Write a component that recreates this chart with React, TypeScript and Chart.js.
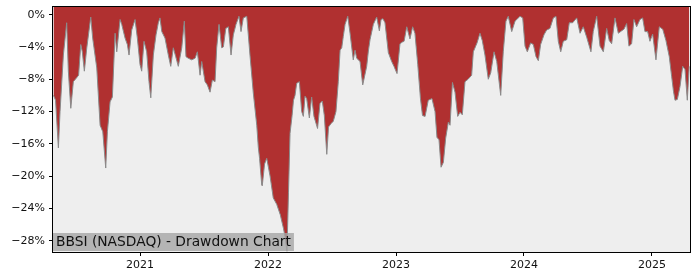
import React, { useEffect, useRef } from "react";
import { Chart, registerables } from "chart.js";

Chart.register(...registerables);

const chartTitle = "BBSI (NASDAQ) - Drawdown Chart";

// decimal years
const dates: number[] = [
  2020.324, 2020.340, 2020.362, 2020.375, 2020.401, 2020.427, 2020.440, 2020.459, 2020.479, 2020.505,
  2020.520, 2020.537, 2020.549, 2020.565, 2020.584, 2020.615, 2020.630, 2020.662, 2020.688, 2020.709,
  2020.732, 2020.745, 2020.766, 2020.784, 2020.805, 2020.818, 2020.844, 2020.857, 2020.883, 2020.901,
  2020.914, 2020.935, 2020.961, 2020.979, 2021.000, 2021.013, 2021.031, 2021.052, 2021.070, 2021.084,
  2021.104, 2021.125, 2021.143, 2021.156, 2021.170, 2021.195, 2021.221, 2021.240, 2021.260, 2021.279,
  2021.299, 2021.326, 2021.346, 2021.359, 2021.377, 2021.404, 2021.430, 2021.448, 2021.469, 2021.482,
  2021.508, 2021.526, 2021.547, 2021.565, 2021.586, 2021.599, 2021.617, 2021.638, 2021.651, 2021.670,
  2021.690, 2021.711, 2021.729, 2021.750, 2021.773, 2021.789, 2021.807, 2021.834, 2021.859, 2021.885,
  2021.912, 2021.924, 2021.934, 2021.951, 2021.955, 2021.973, 2021.990, 2022.016, 2022.041, 2022.068,
  2022.096, 2022.121, 2022.133, 2022.148, 2022.160, 2022.172, 2022.188, 2022.199, 2022.211, 2022.224,
  2022.245, 2022.263, 2022.276, 2022.289, 2022.302, 2022.323, 2022.341, 2022.359, 2022.387, 2022.406,
  2022.424, 2022.440, 2022.459, 2022.473, 2022.492, 2022.510, 2022.531, 2022.549, 2022.563, 2022.576,
  2022.588, 2022.602, 2022.623, 2022.641, 2022.666, 2022.680, 2022.693, 2022.719, 2022.740, 2022.771,
  2022.784, 2022.797, 2022.823, 2022.849, 2022.870, 2022.883, 2022.898, 2022.914, 2022.940, 2022.966,
  2022.984, 2023.008, 2023.031, 2023.049, 2023.063, 2023.084, 2023.109, 2023.130, 2023.148, 2023.170,
  2023.191, 2023.207, 2023.227, 2023.252, 2023.281, 2023.305, 2023.320, 2023.336, 2023.352, 2023.370,
  2023.388, 2023.409, 2023.422, 2023.441, 2023.461, 2023.482, 2023.500, 2023.518, 2023.539, 2023.563,
  2023.591, 2023.604, 2023.633, 2023.656, 2023.674, 2023.695, 2023.721, 2023.740, 2023.766, 2023.787,
  2023.818, 2023.838, 2023.859, 2023.877, 2023.904, 2023.930, 2023.969, 2023.990, 2024.008, 2024.026,
  2024.052, 2024.073, 2024.094, 2024.112, 2024.130, 2024.156, 2024.177, 2024.203, 2024.229, 2024.250,
  2024.268, 2024.287, 2024.307, 2024.334, 2024.354, 2024.380, 2024.412, 2024.438, 2024.463, 2024.490,
  2024.523, 2024.541, 2024.568, 2024.594, 2024.620, 2024.646, 2024.666, 2024.685, 2024.711, 2024.737,
  2024.763, 2024.781, 2024.802, 2024.820, 2024.841, 2024.859, 2024.880, 2024.906, 2024.927, 2024.945,
  2024.966, 2024.984, 2025.005, 2025.031, 2025.057, 2025.084, 2025.109, 2025.135, 2025.154, 2025.168,
  2025.180, 2025.198, 2025.219, 2025.240, 2025.258, 2025.276, 2025.291,
];

// drawdown in percent
const drawdown: number[] = [
  -10.0, -10.6, -16.5, -12.0, -5.0, -1.0, -7.0, -11.6, -8.3, -7.8,
  -7.5, -3.7, -4.6, -7.0, -4.1, -0.3, -2.9, -6.6, -13.7, -14.5,
  -19.0, -14.5, -10.8, -10.2, -2.3, -4.6, -0.6, -1.2, -2.9, -3.7,
  -5.0, -1.9, -0.6, -2.9, -6.2, -7.0, -3.3, -4.6, -8.3, -10.3,
  -5.0, -2.5, -1.0, -0.4, -2.1, -2.9, -5.0, -6.4, -4.1, -5.2,
  -6.4, -4.1, -0.8, -5.2, -5.4, -5.6, -5.4, -4.6, -7.5, -5.8,
  -8.3, -8.7, -9.6, -8.1, -8.3, -4.1, -1.2, -4.1, -4.0, -1.7,
  -1.5, -5.0, -2.5, -1.2, -0.2, -2.1, -0.4, -0.2, -5.0, -9.7,
  -13.7, -16.4, -17.8, -21.1, -21.2, -18.5, -17.8, -20.0, -22.7, -23.5,
  -24.8, -26.5, -27.5, -29.3, -22.0, -14.7, -12.5, -10.6, -10.0, -8.5,
  -8.3, -12.0, -12.6, -10.1, -10.4, -12.8, -10.2, -12.6, -14.1, -11.0,
  -10.7, -12.5, -17.3, -13.9, -13.5, -13.2, -12.0, -8.3, -4.4, -4.1,
  -2.7, -1.2, -0.2, -2.3, -5.6, -4.4, -5.4, -5.8, -8.7, -6.4,
  -4.5, -3.1, -1.2, -0.3, -2.0, -0.6, -0.5, -1.0, -4.7, -5.8,
  -6.4, -7.3, -3.6, -3.4, -3.3, -1.5, -3.0, -1.5, -2.3, -6.2,
  -10.4, -12.5, -12.6, -10.6, -10.4, -12.0, -15.2, -15.5, -18.9, -18.3,
  -15.3, -13.3, -13.7, -8.4, -9.6, -12.6, -12.1, -12.4, -8.3, -8.0,
  -7.5, -4.6, -3.5, -2.3, -3.2, -5.0, -8.0, -7.2, -4.6, -5.8,
  -10.0, -4.6, -0.8, -0.2, -2.1, -0.8, -0.2, -0.4, -3.9, -4.6,
  -3.5, -3.7, -5.2, -5.7, -3.7, -2.5, -1.9, -1.7, -0.4, -0.2,
  -3.3, -4.6, -3.3, -3.1, -1.0, -1.0, -0.4, -2.3, -1.5, -2.8,
  -4.6, -2.1, -0.2, -3.9, -4.6, -1.7, -3.2, -3.6, -0.4, -2.3,
  -2.0, -1.8, -1.1, -3.9, -3.6, -0.6, -1.5, -0.6, -0.4, -2.1,
  -2.1, -3.3, -2.4, -5.6, -1.5, -1.8, -3.2, -5.2, -7.7, -9.5,
  -10.6, -10.5, -8.9, -6.4, -6.8, -10.6, -6.4,
];

const xTicks: number[] = [2021, 2022, 2023, 2024, 2025];
const yTicks: number[] = [0, -4, -8, -12, -16, -20, -24, -28];

const X_MIN = 2020.32;
const X_MAX = 2025.297;
const Y_MIN = -29.4;
const Y_MAX = 0.95;

const FONT = "'DejaVu Sans', sans-serif";

const framePlugin = {
  id: "frame",
  beforeDatasetsDraw(chart: any) {
    const { ctx, chartArea: a } = chart;
    ctx.save();
    ctx.fillStyle = "#eeeeee";
    ctx.fillRect(a.left, a.top, a.right - a.left, a.bottom - a.top);
    ctx.restore();
  },
  afterDatasetsDraw(chart: any) {
    const { ctx, chartArea: a } = chart;
    ctx.save();
    ctx.font = `13.8px ${FONT}`;
    const tw = ctx.measureText(chartTitle).width;
    const boxH = 18;
    ctx.fillStyle = "rgba(165,165,165,0.8)";
    ctx.fillRect(a.left, a.bottom - boxH - 1, tw + 6, boxH);
    ctx.fillStyle = "#111";
    ctx.textBaseline = "middle";
    ctx.textAlign = "left";
    ctx.fillText(chartTitle, a.left + 3, a.bottom - 1 - boxH / 2 + 0.5);
    ctx.strokeStyle = "#000";
    ctx.lineWidth = 1;
    ctx.strokeRect(Math.round(a.left) - 0.5, Math.round(a.top) - 0.5, Math.round(a.right - a.left) + 1, Math.round(a.bottom - a.top) + 1);
    ctx.restore();
  },
};

export default function App() {
  const ref = useRef<HTMLCanvasElement | null>(null);
  useEffect(() => {
    if (!ref.current) return;
    const points = dates.map((d, i) => ({ x: d, y: drawdown[i] }));
    const chart = new Chart(ref.current, {
      type: "line",
      data: {
        datasets: [
          {
            data: points,
            borderColor: "#8a8a8a",
            borderWidth: 1,
            backgroundColor: "#b03030",
            fill: "end",
            pointRadius: 0,
            tension: 0,
          },
        ],
      },
      plugins: [framePlugin],
      options: {
        animation: false,
        responsive: false,
        maintainAspectRatio: false,
        devicePixelRatio: 1,
        layout: { padding: { top: 7, right: 10, left: 0, bottom: 0 } },
        plugins: { legend: { display: false }, tooltip: { enabled: false } },
        scales: {
          x: {
            type: "linear",
            min: X_MIN,
            max: X_MAX,
            afterBuildTicks: (s: any) => {
              s.ticks = xTicks.map((v) => ({ value: v }));
            },
            afterFit: (s: any) => {
              s.height = 28;
              s.paddingLeft = 0;
              s.paddingRight = 0;
            },
            grid: { drawOnChartArea: false, drawTicks: true, tickLength: 4, color: "#000" },
            border: { display: false },
            ticks: {
              color: "#111",
              font: { family: FONT, size: 11 },
              padding: 3,
              maxRotation: 0,
              autoSkip: false,
              callback: (v: any) => String(v),
            },
          },
          y: {
            type: "linear",
            min: Y_MIN,
            max: Y_MAX,
            afterBuildTicks: (s: any) => {
              s.ticks = yTicks.map((v) => ({ value: v }));
            },
            afterFit: (s: any) => {
              s.width = 53;
              s.paddingTop = 0;
              s.paddingBottom = 0;
            },
            grid: { drawOnChartArea: false, drawTicks: true, tickLength: 4, color: "#000" },
            border: { display: false },
            ticks: {
              color: "#111",
              font: { family: FONT, size: 11 },
              padding: 4,
              autoSkip: false,
              callback: (v: any) => (v === 0 ? "0%" : "\u2212" + Math.abs(v) + "%"),
            },
          },
        },
      },
    });
    return () => chart.destroy();
  }, []);
  return (
    <div style={{ position: "absolute", left: 0, top: 0, width: 700, height: 280, background: "#fff" }}>
      <canvas ref={ref} width={700} height={280} style={{ width: 700, height: 280 }} />
    </div>
  );
}
